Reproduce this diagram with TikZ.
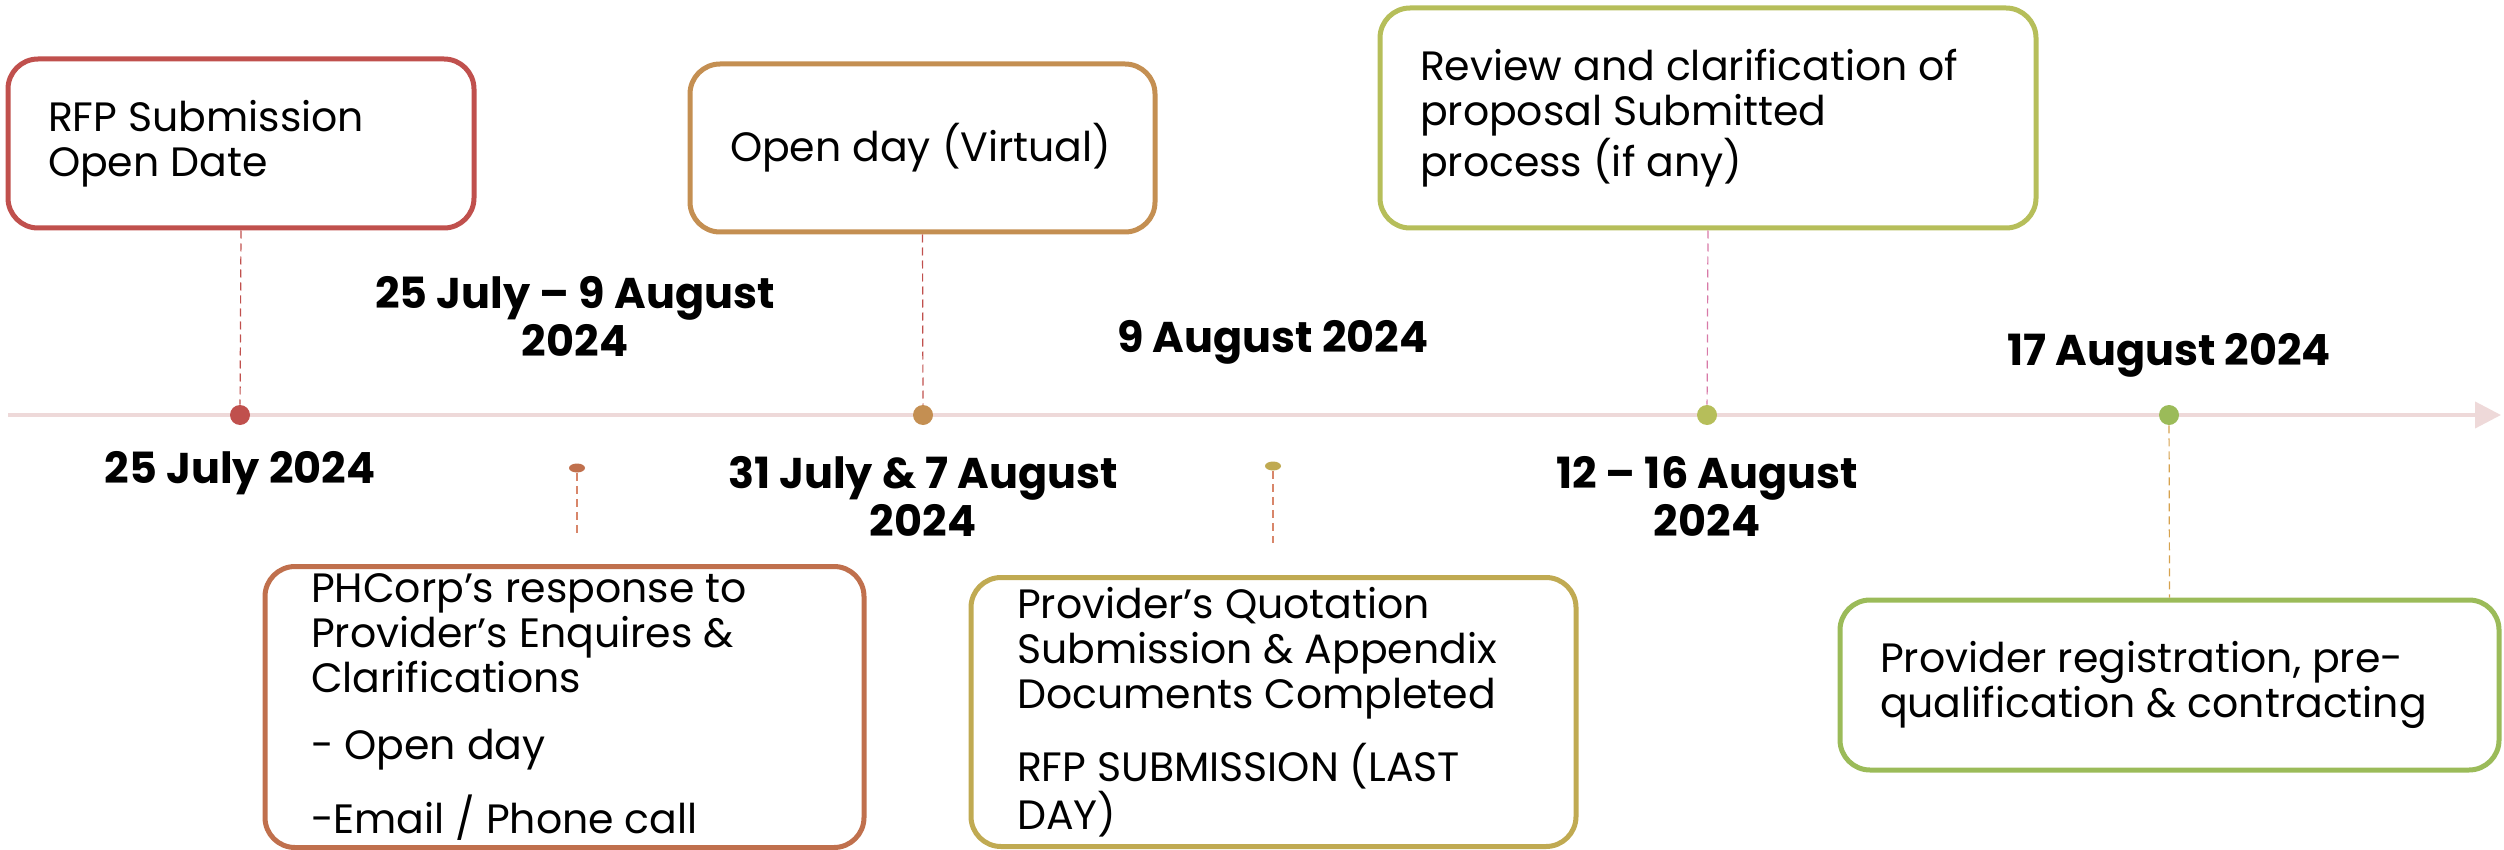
\documentclass[tikz,border=0pt]{standalone}
\usepackage{fontspec}
\setmainfont{Poppins}
\usetikzlibrary{arrows.meta,shapes.geometric}
\definecolor{tlred}{HTML}{C0504D}
\definecolor{tlrust}{HTML}{C0704D}
\definecolor{tltan}{HTML}{C48F52}
\definecolor{tlgold}{HTML}{C0AA52}
\definecolor{tlolive}{HTML}{B6BE5A}
\definecolor{tlgreen}{HTML}{9BBB59}
\definecolor{tlaxis}{HTML}{EED9D9}
\definecolor{tlpink}{HTML}{D87AA8}
\definecolor{tlsand}{HTML}{D6A24E}
\definecolor{tlsalmon}{HTML}{D8866A}

\begin{document}
\begin{tikzpicture}[x=0.5pt,y=-0.5pt,
  event/.style={draw,line width=2.5pt,rounded corners=15pt,align=flush left,inner sep=0pt,
    text=black,font=\fontsize{20.5}{22.5}\selectfont},
  datelbl/.style={align=center,inner sep=0pt,font=\fontsize{21.5}{24}\selectfont\bfseries},
  dot/.style={circle,inner sep=0pt,minimum size=10pt},
  pin/.style={ellipse,inner sep=0pt,minimum width=8pt,minimum height=4.5pt},
  link/.style={dashed,dash pattern=on 4pt off 2.5pt,line width=0.6pt}]
\useasboundingbox (0,0) rectangle (2504,850);
\coordinate (tl0) at (8,415);
\coordinate (tl1) at (2501,415);
\draw [tlaxis,line width=2pt,-{Triangle[length=13pt,width=13pt]}] (tl0) -- (tl1);
\node [event,draw=tlred,minimum width=233pt,minimum height=84.5pt,text width=193pt] (b1) at (241,143.5) {RFP Submission\\Open Date};
\node [event,draw=tltan,minimum width=232.5pt,minimum height=84pt,text width=192.5pt] (b2) at (922.5,148) {Open day (Virtual)};
\node [event,draw=tlolive,minimum width=328pt,minimum height=110pt,text width=288pt] (b3) at (1708,118) {Review and clarification of\\proposal Submitted\\process (if any)};
\node [event,draw=tlrust,minimum width=299.5pt,minimum height=140.5pt,text width=253.5pt] (b4) at (564.5,707) {PHCorp’s response to\\Provider’s Enquires \&\\Clarifications\\[11pt]- Open day\\[11pt]-Email / Phone call};
\node [event,draw=tlgold,minimum width=302.5pt,minimum height=134.5pt,text width=256.5pt] (b5) at (1273.5,712) {Provider’s Quotation\\Submission \& Appendix\\Documents Completed\\[11pt]RFP SUBMISSION (LAST\\DAY)};
\node [event,draw=tlgreen,minimum width=329.5pt,minimum height=85pt,text width=289.5pt] (b6) at (2169.5,685) {Provider registration, pre-\\qualification \& contracting};
\node [dot,fill=tlred] (p1) at (240,415) {};
\node [dot,fill=tltan] (p2) at (923,415) {};
\node [dot,fill=tlolive] (p3) at (1707,415) {};
\node [dot,fill=tlgreen] (p6) at (2169,415) {};
\node [pin,fill=tlrust] (p4) at (577,468) {};
\node [pin,fill=tlgold] (p5) at (1273,466) {};
\coordinate (e4) at (577,535);
\coordinate (e5) at (1273,543);
\draw [link,tlred] (b1.south) -- (p1);
\draw [link,tlred] (b2.south) -- (p2);
\draw [link,tlpink] (b3.south) -- (p3);
\draw [link,tlsand] (p6) -- (b6.north);
\draw [link,tlsalmon] (p4) -- (e4);
\draw [link,tlsalmon] (p5) -- (e5);
\node [datelbl] (d1) at (240,473) {25 July 2024};
\node [datelbl] (d2) at (575,316) {25 July – 9 August\\2024};
\node [datelbl] (d3) at (923,496) {31 July \& 7 August\\2024};
\node [datelbl] (d4) at (1273,342) {9 August 2024};
\node [datelbl] (d5) at (1707,496) {12 – 16 August\\2024};
\node [datelbl] (d6) at (2169,355) {17 August 2024};
\end{tikzpicture}
\end{document}
